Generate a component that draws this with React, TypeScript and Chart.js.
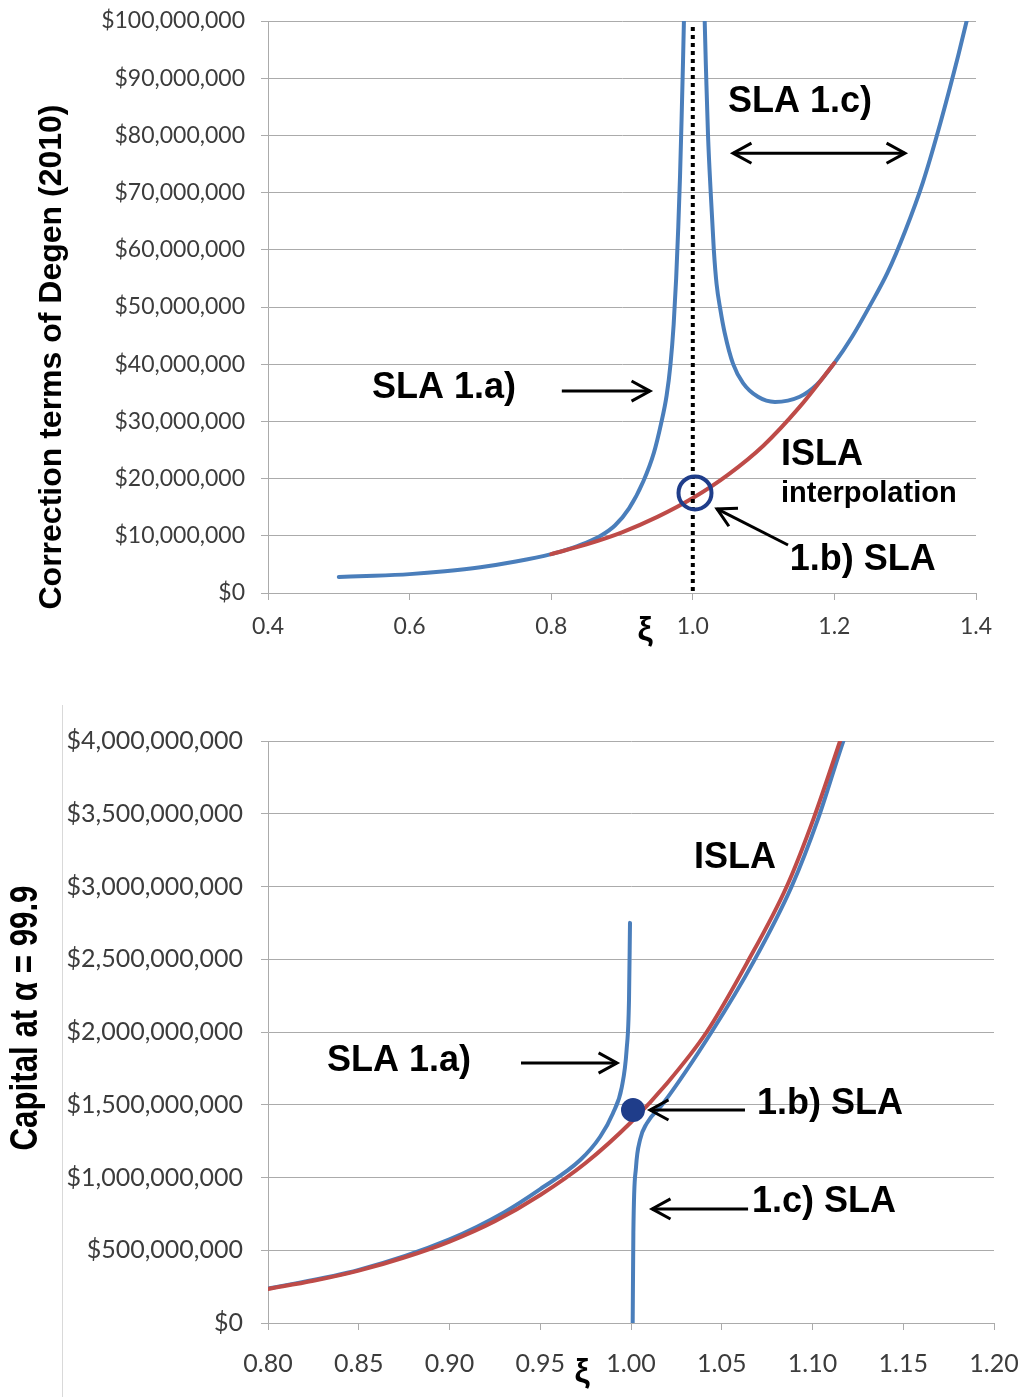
import React, { useEffect, useRef } from 'react';
import { Chart, registerables } from 'chart.js';

Chart.register(...registerables);

// ---------- Top chart: correction terms (values in millions of $) ----------
const topXTicks = [0.4, 0.6, 0.8, 1.0, 1.2, 1.4];
const topYTicksM = [0, 10, 20, 30, 40, 50, 60, 70, 80, 90, 100];

const topIslaXi = [0.8, 0.85, 0.9, 0.95, 1.0, 1.05, 1.1, 1.15, 1.2];
const topIslaM = [6.8, 8.5, 10.6, 13.3, 16.6, 20.7, 25.8, 32.4, 40.2];

const topSlaAXi = [0.5, 0.55, 0.6, 0.65, 0.7, 0.75, 0.8, 0.83, 0.85, 0.87, 0.89, 0.91, 0.93, 0.945, 0.955, 0.963, 0.9685, 0.973, 0.9765, 0.9795, 0.982, 0.9842, 0.9862, 0.988, 0.9895];
const topSlaAM = [2.8, 3.0, 3.3, 3.8, 4.5, 5.5, 6.8, 7.9, 8.8, 10.0, 11.8, 14.8, 19.5, 24.5, 29.5, 34.5, 40, 47, 55, 64, 73, 83, 93, 103, 112];

const topSlaCXi = [1.0155, 1.0168, 1.019, 1.0215, 1.0253, 1.0297, 1.0336, 1.039, 1.045, 1.057, 1.071, 1.092, 1.116, 1.151, 1.175, 1.2, 1.225, 1.25, 1.275, 1.3, 1.325, 1.35, 1.375, 1.3868, 1.392];
const topSlaCM = [110, 100, 90, 80, 70, 60, 54, 49.5, 45.5, 40, 36.7, 34.3, 33.4, 34.3, 36.4, 40.2, 44.8, 50.2, 56.0, 63.3, 71.8, 82.3, 94.0, 100, 102.8];

const topDottedXi = 1.0;
const topCircle = { x: 1.0031, y: 17.5 };

const topLabels = [
  { text: 'SLA 1.c)', x: 1.0497, y: 85.8, size: 36 },
  { text: 'SLA 1.a)', x: 0.547, y: 35.8, size: 36 },
  { text: 'ISLA', x: 1.1246, y: 24.1, size: 36 },
  { text: 'interpolation', x: 1.1246, y: 17.3, size: 29 },
  { text: '1.b) SLA', x: 1.137, y: 5.77, size: 36 },
];
const topArrows = [
  { x1: 1.0568, y1: 76.9, x2: 1.2997, y2: 76.9, both: true },
  { x1: 0.815, y1: 35.3, x2: 0.9395, y2: 35.3, both: false },
  { x1: 1.1345, y1: 8.39, x2: 1.0342, y2: 14.7, both: false },
];

// ---------- Bottom chart: capital (values in billions of $) ----------
const botXTicks = [0.8, 0.85, 0.9, 0.95, 1.0, 1.05, 1.1, 1.15, 1.2];
const botYTicksB = [0, 0.5, 1, 1.5, 2, 2.5, 3, 3.5, 4];

const botIslaXi = [0.8, 0.825, 0.85, 0.875, 0.9, 0.925, 0.95, 0.975, 1.0, 1.02, 1.0417, 1.0637, 1.0858, 1.1004, 1.1152, 1.12];
const botIslaB = [0.234, 0.29, 0.36, 0.45, 0.56, 0.7, 0.88, 1.1, 1.38, 1.65, 2.0, 2.47, 3.0, 3.46, 4.0, 4.18];

const botSlaAXi = [0.8, 0.85, 0.9, 0.93, 0.95, 0.972, 0.983, 0.99, 0.9949, 0.9976, 0.9989, 0.99945];
const botSlaAB = [0.236, 0.365, 0.575, 0.76, 0.92, 1.12, 1.28, 1.44, 1.62, 1.88, 2.22, 2.75];

const botSlaCXi = [1.00093, 1.0013, 1.00275, 1.005, 1.0086, 1.0178, 1.0444, 1.0674, 1.0885, 1.1032, 1.117, 1.12];
const botSlaCB = [0.0, 0.62, 1.07, 1.26, 1.37, 1.51, 2.0, 2.48, 3.0, 3.47, 4.0, 4.1];

const botDot = { x: 1.0011, y: 1.464 };

const botLabels = [
  { text: 'ISLA', x: 1.0347, y: 3.196, size: 36 },
  { text: 'SLA 1.a)', x: 0.8325, y: 1.8, size: 36 },
  { text: '1.b) SLA', x: 1.0694, y: 1.505, size: 36 },
  { text: '1.c) SLA', x: 1.0667, y: 0.832, size: 36 },
];
const botArrows = [
  { x1: 0.9394, y1: 1.787, x2: 0.9923, y2: 1.787, both: false },
  { x1: 1.0628, y1: 1.464, x2: 1.0105, y2: 1.464, both: false },
  { x1: 1.0645, y1: 0.784, x2: 1.0116, y2: 0.784, both: false },
];

// ---------- styles ----------
const GRID = '#ababab';
const TICK_COLOR = '#3c3c3c';
const BLUE = '#4a7ebb';
const RED = '#be4b48';
const NAVY = '#1f3d8a';
const TICK_FONT = "Lato, 'Liberation Sans', sans-serif";
const BOLD_FONT = "'Liberation Sans', Arial, sans-serif";

const zip = (xs: number[], ys: number[]) => xs.map((x, i) => ({ x, y: ys[i] }));

function lineDs(label: string, xs: number[], ys: number[], color: string) {
  return {
    label,
    data: zip(xs, ys),
    borderColor: color,
    backgroundColor: color,
    borderWidth: 4,
    pointRadius: 0,
    fill: false,
    cubicInterpolationMode: 'monotone',
    borderCapStyle: 'round',
    borderJoinStyle: 'round',
    clip: 0,
  };
}

function drawArrow(ctx: CanvasRenderingContext2D, x1: number, y1: number, x2: number, y2: number, both: boolean) {
  ctx.save();
  ctx.strokeStyle = '#000';
  ctx.lineWidth = 3;
  ctx.lineJoin = 'miter';
  ctx.beginPath();
  ctx.moveTo(x1, y1);
  ctx.lineTo(x2, y2);
  ctx.stroke();
  const head = (tx: number, ty: number, fx: number, fy: number) => {
    const a = Math.atan2(ty - fy, tx - fx);
    const L = 21;
    const W = 0.5;
    ctx.beginPath();
    ctx.moveTo(tx - L * Math.cos(a - W), ty - L * Math.sin(a - W));
    ctx.lineTo(tx, ty);
    ctx.lineTo(tx - L * Math.cos(a + W), ty - L * Math.sin(a + W));
    ctx.stroke();
  };
  head(x2, y2, x1, y1);
  if (both) head(x1, y1, x2, y2);
  ctx.restore();
}

function drawLabel(ctx: CanvasRenderingContext2D, text: string, x: number, y: number, size: number) {
  ctx.save();
  ctx.fillStyle = '#000';
  ctx.font = `bold ${size}px ${BOLD_FONT}`;
  ctx.textAlign = 'left';
  ctx.textBaseline = 'middle';
  ctx.fillText(text, x, y);
  ctx.restore();
}

function drawVerticalTitle(ctx: CanvasRenderingContext2D, text: string, cx: number, cy: number, size: number, targetLen: number) {
  ctx.save();
  ctx.translate(cx, cy);
  ctx.rotate(-Math.PI / 2);
  ctx.font = `bold ${size}px ${BOLD_FONT}`;
  const w = ctx.measureText(text).width;
  ctx.scale(targetLen / w, 1);
  ctx.fillStyle = '#000';
  ctx.textAlign = 'center';
  ctx.textBaseline = 'middle';
  ctx.fillText(text, 0, 0);
  ctx.restore();
}

function drawXi(ctx: CanvasRenderingContext2D, x: number, y: number) {
  ctx.save();
  ctx.fillStyle = '#000';
  ctx.font = `bold 34px ${BOLD_FONT}`;
  ctx.textAlign = 'center';
  ctx.textBaseline = 'middle';
  ctx.fillText('ξ', x, y);
  ctx.restore();
}

const topOverlay = {
  id: 'topOverlay',
  afterDatasetsDraw(chart: any) {
    const { ctx, chartArea: a } = chart;
    const xs = chart.scales.x;
    const ys = chart.scales.y;
    ctx.save();
    ctx.beginPath();
    ctx.setLineDash([4, 4]);
    ctx.lineWidth = 4;
    ctx.strokeStyle = '#000';
    const dx = xs.getPixelForValue(topDottedXi);
    ctx.moveTo(dx, a.top + 6);
    ctx.lineTo(dx, a.bottom);
    ctx.stroke();
    ctx.setLineDash([]);
    ctx.beginPath();
    ctx.lineWidth = 4;
    ctx.strokeStyle = NAVY;
    ctx.arc(xs.getPixelForValue(topCircle.x), ys.getPixelForValue(topCircle.y), 16.5, 0, Math.PI * 2);
    ctx.stroke();
    ctx.restore();
  },
  afterDraw(chart: any) {
    const { ctx, chartArea: a } = chart;
    const xs = chart.scales.x;
    const ys = chart.scales.y;
    for (const l of topLabels) drawLabel(ctx, l.text, xs.getPixelForValue(l.x), ys.getPixelForValue(l.y), l.size);
    for (const r of topArrows)
      drawArrow(ctx, xs.getPixelForValue(r.x1), ys.getPixelForValue(r.y1), xs.getPixelForValue(r.x2), ys.getPixelForValue(r.y2), r.both);
    drawXi(ctx, xs.getPixelForValue(0.9325), a.bottom + 38);
    drawVerticalTitle(ctx, 'Correction terms of Degen (2010)', 52, a.top + 336, 32, 505);
  },
};

const botOverlay = {
  id: 'botOverlay',
  beforeDraw(chart: any) {
    const { ctx } = chart;
    ctx.save();
    ctx.strokeStyle = '#d9d9d9';
    ctx.lineWidth = 1;
    ctx.beginPath();
    ctx.moveTo(62.5, 15);
    ctx.lineTo(62.5, chart.height);
    ctx.stroke();
    ctx.restore();
  },
  afterDatasetsDraw(chart: any) {
    const { ctx } = chart;
    const xs = chart.scales.x;
    const ys = chart.scales.y;
    ctx.save();
    ctx.beginPath();
    ctx.fillStyle = NAVY;
    ctx.arc(xs.getPixelForValue(botDot.x), ys.getPixelForValue(botDot.y), 12, 0, Math.PI * 2);
    ctx.fill();
    ctx.restore();
  },
  afterDraw(chart: any) {
    const { ctx, chartArea: a } = chart;
    const xs = chart.scales.x;
    const ys = chart.scales.y;
    for (const l of botLabels) drawLabel(ctx, l.text, xs.getPixelForValue(l.x), ys.getPixelForValue(l.y), l.size);
    for (const r of botArrows)
      drawArrow(ctx, xs.getPixelForValue(r.x1), ys.getPixelForValue(r.y1), xs.getPixelForValue(r.x2), ys.getPixelForValue(r.y2), r.both);
    drawXi(ctx, xs.getPixelForValue(0.973), a.bottom + 50);
    drawVerticalTitle(ctx, 'Capital at α = 99.9', 27, a.top + 277, 38, 265);
  },
};

function scales(opts: {
  xTicks: number[]; yTicks: number[]; xFmt: (v: number) => string; yFmt: (v: number) => string;
  yWidth: number; xHeight: number; fontSize: number; xPad: number; yPad: number;
}) {
  return {
    x: {
      type: 'linear',
      min: opts.xTicks[0],
      max: opts.xTicks[opts.xTicks.length - 1],
      afterBuildTicks: (s: any) => { s.ticks = opts.xTicks.map((v) => ({ value: v })); },
      afterFit: (s: any) => { s.height = opts.xHeight; },
      ticks: {
        autoSkip: false, maxRotation: 0, minRotation: 0,
        color: TICK_COLOR, padding: opts.xPad,
        font: { family: TICK_FONT, size: opts.fontSize },
        callback: (v: any) => opts.xFmt(Number(v)),
      },
      grid: { drawOnChartArea: false, drawTicks: true, tickLength: 7, color: GRID, lineWidth: 1 },
      border: { display: true, color: GRID, width: 1 },
    },
    y: {
      type: 'linear',
      min: opts.yTicks[0],
      max: opts.yTicks[opts.yTicks.length - 1],
      afterBuildTicks: (s: any) => { s.ticks = opts.yTicks.map((v) => ({ value: v })); },
      afterFit: (s: any) => { s.width = opts.yWidth; },
      ticks: {
        autoSkip: false,
        color: TICK_COLOR, padding: opts.yPad,
        font: { family: TICK_FONT, size: opts.fontSize },
        callback: (v: any) => opts.yFmt(Number(v)),
      },
      grid: { drawTicks: true, tickLength: 7, color: GRID, lineWidth: 1 },
      border: { display: true, color: GRID, width: 1 },
    },
  };
}

function topConfig(): any {
  return {
    type: 'line',
    data: {
      datasets: [
        lineDs('ISLA interpolation', topIslaXi, topIslaM, RED),
        lineDs('SLA 1.a)', topSlaAXi, topSlaAM, BLUE),
        lineDs('SLA 1.c)', topSlaCXi, topSlaCM, BLUE),
      ],
    },
    options: {
      animation: false,
      responsive: false,
      devicePixelRatio: 1,
      events: [],
      layout: { padding: { left: 0, top: 31, right: 46, bottom: 0 } },
      plugins: { legend: { display: false }, tooltip: { enabled: false } },
      scales: scales({
        xTicks: topXTicks, yTicks: topYTicksM,
        xFmt: (v) => v.toFixed(1),
        yFmt: (v) => '$' + Math.round(v * 1e6).toLocaleString('en-US'),
        yWidth: 268, xHeight: 67, fontSize: 23, xPad: 13, yPad: 16,
      }),
    },
    plugins: [topOverlay],
  };
}

function botConfig(): any {
  return {
    type: 'line',
    data: {
      datasets: [
        lineDs('ISLA', botIslaXi, botIslaB, RED),
        lineDs('SLA 1.a)', botSlaAXi, botSlaAB, BLUE),
        lineDs('1.c) SLA', botSlaCXi, botSlaCB, BLUE),
      ],
    },
    options: {
      animation: false,
      responsive: false,
      devicePixelRatio: 1,
      events: [],
      layout: { padding: { left: 0, top: 51, right: 48, bottom: 0 } },
      plugins: { legend: { display: false }, tooltip: { enabled: false } },
      scales: scales({
        xTicks: botXTicks, yTicks: botYTicksB,
        xFmt: (v) => v.toFixed(2),
        yFmt: (v) => '$' + Math.round(v * 1e9).toLocaleString('en-US'),
        yWidth: 268, xHeight: 74, fontSize: 25, xPad: 19, yPad: 18,
      }),
    },
    plugins: [botOverlay],
  };
}

export default function App() {
  const topRef = useRef<HTMLCanvasElement>(null);
  const botRef = useRef<HTMLCanvasElement>(null);
  useEffect(() => {
    const c1 = new Chart(topRef.current as HTMLCanvasElement, topConfig());
    const c2 = new Chart(botRef.current as HTMLCanvasElement, botConfig());
    return () => { c1.destroy(); c2.destroy(); };
  }, []);
  return (
    <div style={{ position: 'absolute', left: 0, top: 0, width: 1022, height: 1397, background: '#fff', overflow: 'hidden' }}>
      <canvas ref={topRef} width={1022} height={670} style={{ position: 'absolute', left: 0, top: -10, width: 1022, height: 670 }} />
      <canvas ref={botRef} width={1042} height={707} style={{ position: 'absolute', left: 0, top: 690, width: 1042, height: 707 }} />
    </div>
  );
}
